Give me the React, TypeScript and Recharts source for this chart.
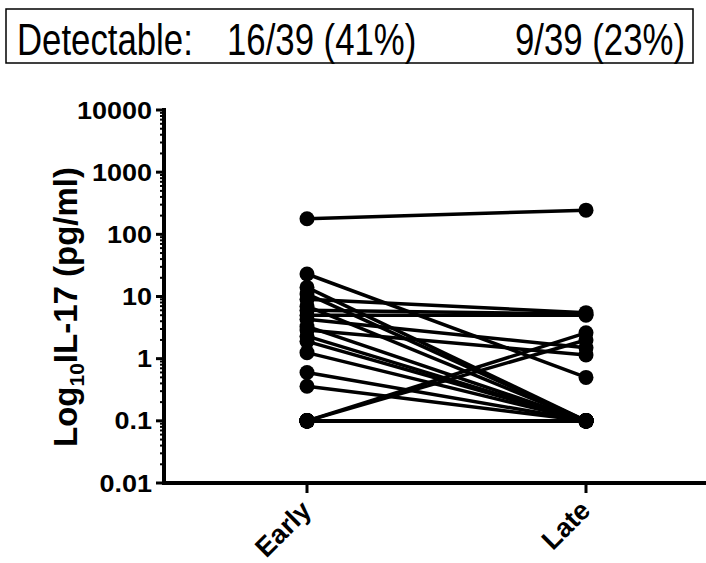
import { LineChart, Line, XAxis, YAxis } from "recharts"

// IL-17 per subject (pg/ml), undetectable plotted at 0.1
const timepoints = ["Early", "Late"]
const earlyValues = [
    178, 23, 14, 11, 9, 7, 6, 5, 4.3, 3.3, 2.9, 2.3, 1.9, 1.25, 0.6, 0.36, 0.1, 0.1,
    0.1, 0.1, 0.1, 0.1, 0.1, 0.1, 0.1, 0.1, 0.1, 0.1, 0.1, 0.1, 0.1, 0.1, 0.1, 0.1, 0.1, 0.1, 0.1, 0.1, 0.1,
]
const lateValues = [
    245, 0.5, 0.1, 0.1, 5.5, 0.1, 5.2, 5, 1.5, 0.1, 1.15, 0.1, 0.1, 0.1, 0.1, 0.1, 2.6, 2.0,
    0.1, 0.1, 0.1, 0.1, 0.1, 0.1, 0.1, 0.1, 0.1, 0.1, 0.1, 0.1, 0.1, 0.1, 0.1, 0.1, 0.1, 0.1, 0.1, 0.1, 0.1,
]
const decades = [0.01, 0.1, 1, 10, 100, 1000, 10000]
const detectable = ["16/39 (41%)", "9/39 (23%)"]

const FONT = "'Liberation Sans', Arial, Helvetica, sans-serif"

const data = timepoints.map((t, ti) => {
    const row: Record<string, any> = { time: t }
    const vals = ti === 0 ? earlyValues : lateValues
    vals.forEach((v, i) => { row[`s${i}`] = v })
    return row
})

// log ticks with minor marks between decades
const yTicks: number[] = []
decades.slice(0, -1).forEach((d) => {
    for (let k = 1; k <= 9; k++) yTicks.push(+(d * k).toPrecision(3))
})
yTicks.push(10000)

const isMajor = (v: number) => decades.includes(v)

// stretched label width, the reference digits are wide
const labelWidth = (s: string) =>
    s.split("").reduce((w, c) => w + (c === "." ? 0.278 : 0.556), 0) * 27

const YTick = (props: any) => {
    const { x, y, payload } = props
    const v = payload.value
    if (!isMajor(v)) {
        return <line x1={x - 4} x2={x} y1={y} y2={y} stroke="#000" strokeWidth={2} />
    }
    const s = String(v)
    return (
        <g>
            <line x1={x - 8} x2={x} y1={y} y2={y} stroke="#000" strokeWidth={3} />
            <text
                x={x - 12}
                y={y + 8.5}
                textAnchor="end"
                fontSize={24}
                fontWeight="bold"
                fontFamily={FONT}
                fill="#000"
                textLength={labelWidth(s)}
                lengthAdjust="spacingAndGlyphs"
            >
                {s}
            </text>
        </g>
    )
}

const XTick = (props: any) => {
    const { x, y, payload } = props
    return (
        <g>
            <line x1={x} x2={x} y1={y} y2={y + 10} stroke="#000" strokeWidth={3} />
            <text
                transform={`translate(${x + 6},${y + 29}) rotate(-45)`}
                textAnchor="end"
                fontSize={27}
                fontWeight="bold"
                fontFamily={FONT}
                fill="#000"
            >
                {payload.value}
            </text>
        </g>
    )
}

const YLabel = () => (
    <text
        transform="translate(77,307) rotate(-90)"
        textAnchor="middle"
        fontSize={33}
        fontWeight="bold"
        fontFamily={FONT}
        fill="#000"
    >
        Log<tspan fontSize={21} dy={7}>10</tspan>
        <tspan dy={-7}>IL-17 (pg/ml)</tspan>
    </text>
)

export default function App() {
    return (
        <div style={{ position: "relative", width: 706, height: 563, background: "#fff" }}>
            <style>{"body{margin:0}"}</style>
            <LineChart width={706} height={563} data={data} margin={{ top: 110, right: 0, left: 0, bottom: 0 }}>
                <XAxis
                    dataKey="time"
                    height={80}
                    padding={{ left: 143, right: 120 }}
                    axisLine={{ stroke: "#000", strokeWidth: 4, strokeLinecap: "square" }}
                    tickLine={false}
                    tickSize={0}
                    tickMargin={0}
                    tick={<XTick />}
                    interval={0}
                />
                <YAxis
                    type="number"
                    scale="log"
                    domain={[0.01, 10000]}
                    allowDataOverflow
                    ticks={yTicks}
                    interval={0}
                    width={164}
                    axisLine={{ stroke: "#000", strokeWidth: 4, strokeLinecap: "square" }}
                    tickLine={false}
                    tickSize={0}
                    tickMargin={0}
                    tick={<YTick />}
                    label={<YLabel />}
                />
                {earlyValues.map((_, i) => (
                    <Line
                        key={i}
                        type="linear"
                        dataKey={`s${i}`}
                        stroke="#000"
                        strokeWidth={3.5}
                        dot={{ r: 7.5, fill: "#000", stroke: "none" }}
                        activeDot={false}
                        isAnimationActive={false}
                    />
                ))}
            </LineChart>

            <svg width={706} height={70} style={{ position: "absolute", left: 0, top: 0 }}>
                <rect x={6} y={9} width={687} height={54} fill="none" stroke="#000" strokeWidth={1.5} />
                <g fontFamily={FONT} fontSize={44} fill="#000">
                    <text transform="translate(17,55) scale(0.79,1)">Detectable:</text>
                    <text transform="translate(227,55) scale(0.79,1)">{detectable[0]}</text>
                    <text transform="translate(685,55) scale(0.79,1)" textAnchor="end">{detectable[1]}</text>
                </g>
            </svg>
        </div>
    )
}
